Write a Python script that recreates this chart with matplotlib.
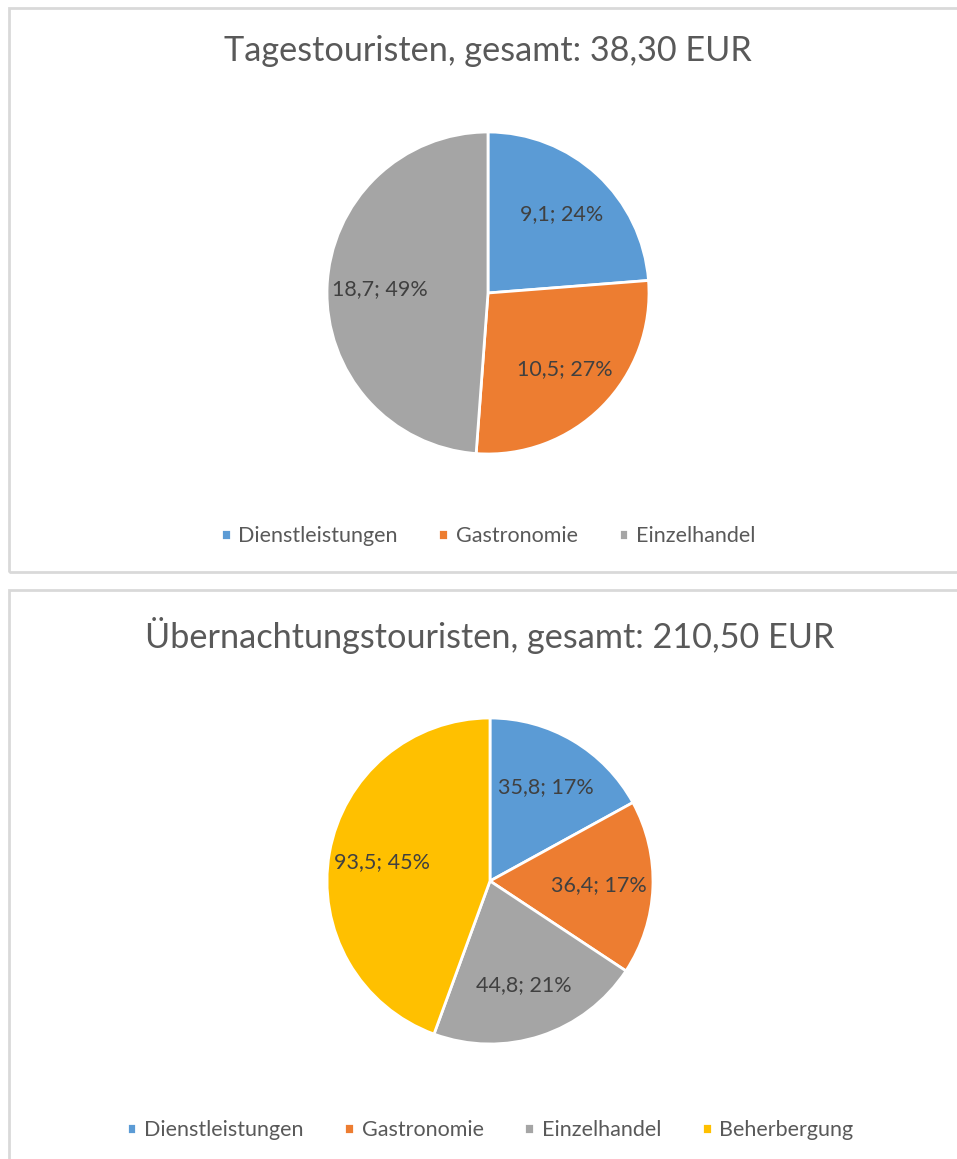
import matplotlib.pyplot as plt
from matplotlib.patches import Rectangle

plt.rcParams['font.family'] = ['Lato', 'DejaVu Sans']

# --- Daten ---
kategorien_tag = ['Dienstleistungen', 'Gastronomie', 'Einzelhandel']
werte_tag = [9.1, 10.5, 18.7]
prozent_tag = [24, 27, 49]
titel_tag = 'Tagestouristen, gesamt: 38,30 EUR'

kategorien_ueb = ['Dienstleistungen', 'Gastronomie', 'Einzelhandel', 'Beherbergung']
werte_ueb = [35.8, 36.4, 44.8, 93.5]
prozent_ueb = [17, 17, 21, 45]
titel_ueb = 'Übernachtungstouristen, gesamt: 210,50 EUR'

farben = ['#5B9BD5', '#ED7D31', '#A5A5A5', '#FFC000']

W, H = 957, 1159
fig = plt.figure(figsize=(W / 100, H / 100), dpi=100)


def fmt(werte, prozent):
    return [f"{v:.1f}".replace('.', ',') + f"; {p}%" for v, p in zip(werte, prozent)]


def panel(y0, y1):
    # Rahmen des Diagrammbereichs (rechter Rand liegt ausserhalb des Bildes)
    fig.patches.append(Rectangle((9 / W, 1 - y1 / H), 1.2, (y1 - y0) / H,
                                 transform=fig.transFigure, fill=False,
                                 edgecolor='#D9D9D9', lw=2))


def torte(werte, prozent, kategorien, cx, cy, r, titel, ty, ly):
    ax = fig.add_axes([(cx - r) / W, 1 - (cy + r) / H, 2 * r / W, 2 * r / H])
    wedges, texts = ax.pie(werte, colors=farben[:len(werte)], startangle=90,
                           counterclock=False, radius=1,
                           labels=fmt(werte, prozent), labeldistance=0.67,
                           wedgeprops=dict(edgecolor='white', linewidth=2),
                           textprops=dict(color='#404040', fontsize=15.5,
                                          ha='center', va='center'))
    for t in texts:
        t.set_horizontalalignment('center')
    ax.set_xlim(-1, 1)
    ax.set_ylim(-1, 1)
    ax.axis('off')
    fig.text(cx / W, 1 - ty / H, titel, ha='center', va='center',
             fontsize=24.7, color='#595959')
    fig.legend(wedges, kategorien, loc='center', bbox_to_anchor=(cx / W, 1 - ly / H),
               ncol=len(kategorien), frameon=False, fontsize=15.5,
               labelcolor='#595959', handlelength=0.45, handleheight=0.45,
               handletextpad=0.35, columnspacing=1.9)


panel(8, 572)
panel(590, 1170)

torte(werte_tag, prozent_tag, kategorien_tag, 488, 293, 161, titel_tag, 51, 536)
torte(werte_ueb, prozent_ueb, kategorien_ueb, 490, 881, 163, titel_ueb, 635, 1130)

fig.savefig('out.png', dpi=100, facecolor='white')
